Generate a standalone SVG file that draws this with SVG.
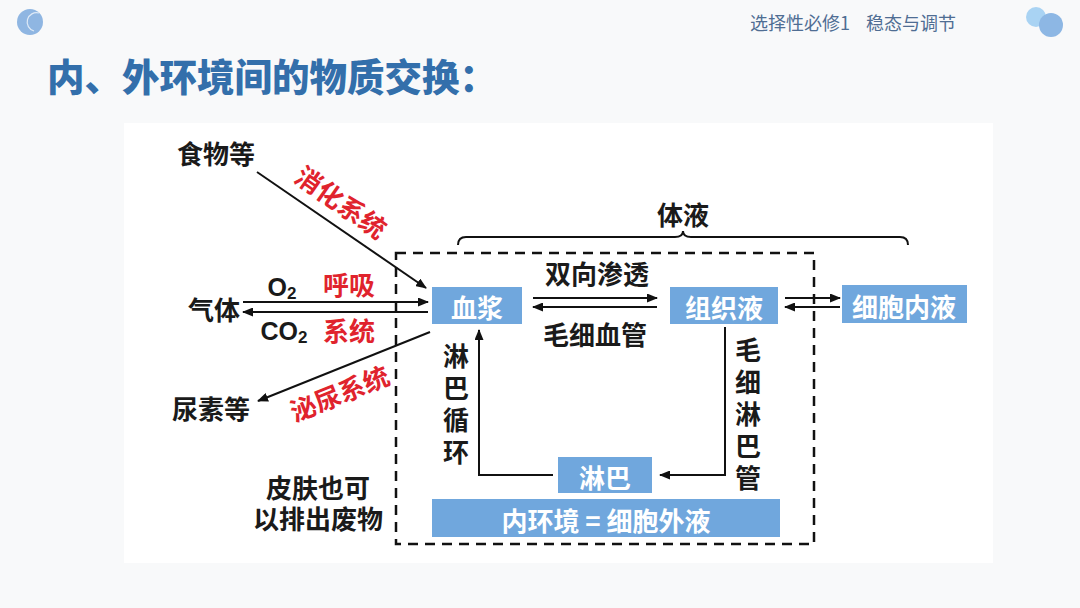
<svg xmlns="http://www.w3.org/2000/svg" width="1080" height="608" viewBox="0 0 1080 608">
<defs>
<style>
.t{font-family:"Noto Sans CJK SC","Liberation Sans",sans-serif;font-weight:700;font-size:26px;fill:#1a1a1a;text-anchor:middle;dominant-baseline:central}
.v{font-family:"Noto Sans CJK SC",sans-serif;font-weight:700;font-size:26px;fill:#1a1a1a;writing-mode:vertical-rl;text-anchor:start;letter-spacing:6px}
.r{fill:#e0232d}
.w{fill:#ffffff}
.box{fill:#70a7dd}
.ln{stroke:#111;stroke-width:2;fill:none}
.dash{stroke:#111;stroke-width:2.5;fill:none;stroke-dasharray:10 7}
</style>
<marker id="ah" markerUnits="userSpaceOnUse" markerWidth="11" markerHeight="9" refX="10" refY="4.5" orient="auto">
<path d="M0,0 L11,4.5 L0,9 z" fill="#111"/>
</marker>
</defs>
<rect x="0" y="0" width="1080" height="608" fill="#f8f9fa"/>
<g id="decor">
<circle cx="30" cy="22" r="13" fill="#8fb6e2"/>
<path d="M34,31 A9,9 0 0 1 39,13" stroke="#ffffff" stroke-width="1.2" fill="none" opacity="0.7"/>
<circle cx="1036" cy="17" r="10" fill="#a9d3f3"/>
<circle cx="1051" cy="25" r="12" fill="#8db7e4"/>
</g>
<g id="header">
<text x="750" y="22" style="font-family:'Noto Sans CJK SC',sans-serif;font-size:18px;fill:#4f6d93;dominant-baseline:central">选择性必修1<tspan x="866">稳态与调节</tspan></text>
<text x="47" y="74" style="font-family:'Noto Sans CJK SC',sans-serif;font-weight:900;font-size:37.5px;fill:#336fab;dominant-baseline:central">内、外环境间的物质交换：</text>
</g>
<rect id="panel" x="124" y="123" width="869" height="440" fill="#ffffff"/>
<g id="connectors">
<rect x="396" y="253" width="418" height="291" class="dash"/>
<path class="ln" d="M458,245 Q458,237 466,237 L675,237 Q683,237 683,231 Q683,237 691,237 L900,237 Q908,237 908,245"/>
<line class="ln" x1="257" y1="172" x2="426" y2="288" marker-end="url(#ah)"/>
<line class="ln" x1="243" y1="302" x2="428" y2="302" marker-end="url(#ah)"/>
<line class="ln" x1="428" y1="312" x2="243" y2="312" marker-end="url(#ah)"/>
<line class="ln" x1="430" y1="332" x2="258" y2="401" marker-end="url(#ah)"/>
<line class="ln" x1="533" y1="298" x2="657" y2="298" marker-end="url(#ah)"/>
<line class="ln" x1="657" y1="307" x2="533" y2="307" marker-end="url(#ah)"/>
<line class="ln" x1="785" y1="298" x2="840" y2="298" marker-end="url(#ah)"/>
<line class="ln" x1="840" y1="307" x2="785" y2="307" marker-end="url(#ah)"/>
<path class="ln" d="M725,327 V475 H660" marker-end="url(#ah)"/>
<path class="ln" d="M553,475 H479 V330" marker-end="url(#ah)"/>
</g>
<g id="food"><text class="t" x="216" y="152">食物等</text></g>
<g id="gas"><text class="t" x="214" y="308">气体</text></g>
<g id="urea"><text class="t" x="211" y="407">尿素等</text></g>
<g id="skin"><text class="t" x="318" y="486">皮肤也可<tspan x="318" dy="31">以排出废物</tspan></text></g>
<g id="labels">
<text class="t r" transform="translate(342,201) rotate(35)">消化系统</text>
<text class="t r" transform="translate(339,392) rotate(-22)">泌尿系统</text>
<text class="t r" x="349" y="283">呼吸</text>
<text class="t r" x="349" y="329">系统</text>
<text class="t" x="282" y="287" style="font-family:'Liberation Sans',sans-serif;font-size:25px">O<tspan font-size="17" dy="6">2</tspan></text>
<text class="t" x="284" y="331" style="font-family:'Liberation Sans',sans-serif;font-size:25px">CO<tspan font-size="17" dy="6">2</tspan></text>
<text class="t" x="683" y="213">体液</text>
<text class="t" x="597" y="272">双向渗透</text>
<text class="t" x="595" y="333">毛细血管</text>
<text class="v" x="456" y="343">淋巴循环</text>
<text class="v" x="748" y="337">毛细淋巴管</text>
</g>
<g id="plasma"><rect class="box" x="432" y="287" width="90" height="37"/><text class="t w" x="477" y="306">血浆</text></g>
<g id="tissue"><rect class="box" x="670" y="287" width="108" height="37"/><text class="t w" x="724" y="306">组织液</text></g>
<g id="intracellular"><rect class="box" x="842" y="285" width="125" height="38"/><text class="t w" x="904" y="305">细胞内液</text></g>
<g id="lymph"><rect class="box" x="558" y="457" width="94" height="36"/><text class="t w" x="605" y="476">淋巴</text></g>
<g id="internal"><rect class="box" x="432" y="499" width="348" height="38"/><text class="t w" x="606" y="519">内环境 = 细胞外液</text></g>
</svg>
